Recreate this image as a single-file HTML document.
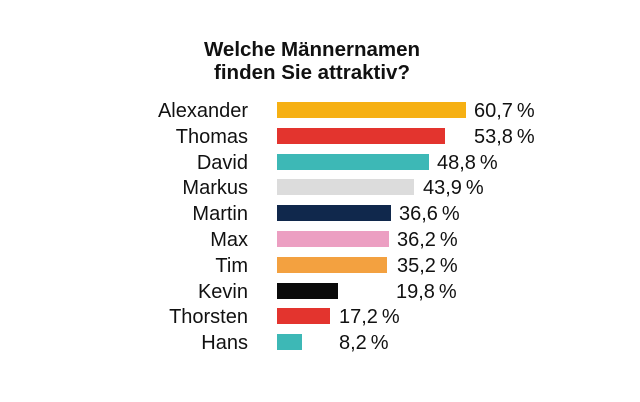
<!DOCTYPE html>
<html><head><meta charset="utf-8"><style>
body{margin:0;width:640px;height:402px;background:#fff;overflow:hidden;font-family:"Liberation Sans",sans-serif;color:#111}
.t{position:absolute;left:0;width:624px;text-align:center;font-weight:bold;font-size:20.5px;line-height:23px;top:38px}
.l{position:absolute;right:392px;font-size:20px;line-height:16px;text-align:right;white-space:nowrap}
.b{position:absolute;left:277px;height:16px}
.p{position:absolute;font-size:20px;line-height:16px;white-space:nowrap}
</style></head><body>
<div class="t">Welche Männernamen<br>finden Sie attraktiv?</div>
<div id="c"></div>
<script>
var d=[["Alexander",466,"#f6b013","60,7",474],["Thomas",445,"#e3342e","53,8",474],["David",429,"#3db8b6","48,8",437],["Markus",414,"#dcdcdc","43,9",423],["Martin",391,"#10284c","36,6",399],["Max",389,"#ec9fc2","36,2",397],["Tim",387,"#f3a140","35,2",397],["Kevin",338,"#0a0a0a","19,8",396],["Thorsten",330,"#e3342e","17,2",339],["Hans",302,"#3db8b6","8,2",339]];
var h="";d.forEach(function(r,i){var y=102+i*25.8;
h+='<div class="l" style="top:'+(y+1)+'px">'+r[0]+'</div><div class="b" style="top:'+y+'px;width:'+(r[1]-277)+'px;background:'+r[2]+'"></div><div class="p" style="top:'+(y+1)+'px;left:'+r[4]+'px">'+r[3]+'\u2009%</div>';});
document.getElementById("c").innerHTML=h;
</script>
</body></html>
